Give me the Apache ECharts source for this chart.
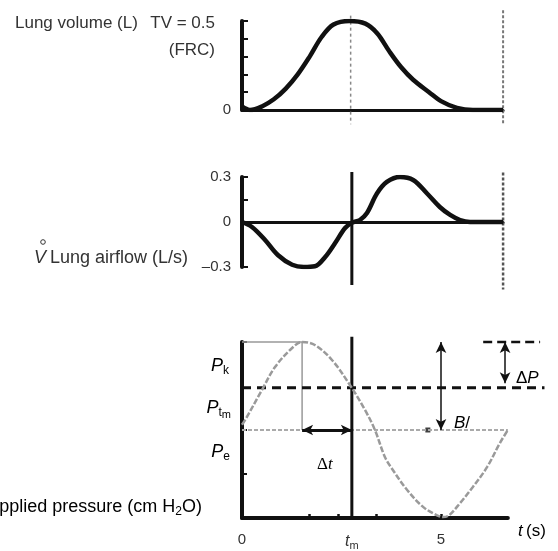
<!DOCTYPE html>
<html>
<head>
<meta charset="utf-8">
<title>Lung volume, airflow and applied pressure</title>
<style>
  html, body { margin: 0; padding: 0; background: #fff; }
  #chart { width: 558px; height: 551px; }
</style>
</head>
<body>
<div id="chart"></div>
<script src="https://cdn.jsdelivr.net/npm/echarts@6/dist/echarts.min.js"></script>
<script>
// lung volume (L) against time (s)
var volTime = [0, 0.2, 0.5, 0.8, 1.1, 1.4, 1.7, 2.0, 2.3, 2.7, 3.1, 3.4, 3.7, 4.0, 4.3, 4.7, 5.0, 5.4, 5.8, 6.2, 6.56];
var volume  = [0.02, 0.0, 0.02, 0.06, 0.12, 0.2, 0.3, 0.41, 0.48, 0.5, 0.485, 0.43, 0.33, 0.24, 0.17, 0.1, 0.05, 0.012, 0.0, 0.0, 0.0];

// lung airflow (L/s)
var flowTime = [0, 0.25, 0.58, 0.9, 1.26, 1.55, 1.83, 2.09, 2.34, 2.59, 2.76, 2.96, 3.14, 3.39, 3.64, 3.97, 4.3, 4.65, 4.97, 5.23, 5.48, 5.73, 6.56];
var airflow  = [0, -0.033, -0.12, -0.22, -0.285, -0.3, -0.295, -0.233, -0.14, -0.04, -0.005, 0.013, 0.06, 0.19, 0.267, 0.3, 0.28, 0.19, 0.1, 0.047, 0.013, 0.0, 0.0];

// applied pressure (relative, Pe = 0.5, Pk = 1)
var presTime = [0, 0.08, 0.5, 0.83, 1.26, 1.51, 1.83, 2.26, 2.71, 3.09, 3.34, 3.59, 3.79, 4.15, 4.55, 4.9, 5.05, 5.2, 5.48, 5.8, 6.16, 6.48, 6.68];
var pressure = [0.53, 0.557, 0.727, 0.858, 0.966, 1.0, 0.983, 0.898, 0.756, 0.614, 0.5, 0.347, 0.273, 0.159, 0.063, 0.015, 0.005, 0.015, 0.085, 0.176, 0.29, 0.426, 0.5];

var tm = 2.76, tPeak = 1.51, tEnd = 6.56, tAxisEnd = 6.68, tWide = 7.6;
var Pk = 1, Ptm = 0.74, Pe = 0.5;
var volTicks = 0.1;
var flowTicks = [-0.3, 0, 0.15, 0.3];
var flowLabels = [-0.3, 0, 0.3];
var presTicks = [0.25, 0.5, 0.74, 1];
var timeTicks = [1.68, 2.41, 3.37, 5];
var timeLabels = [0, tm, 5];

var INK = '#111';
var TXT = '#333';
var FONT = '"Liberation Sans", Arial, sans-serif';
var PX = 39.8; // pixels per second on every panel

function pairs(xs, ys) {
  return xs.map(function (x, i) { return [x, ys[i]]; });
}

function seg(grid, pts, style) {
  return {
    type: 'line', xAxisIndex: grid, yAxisIndex: grid,
    data: pts, symbol: 'none', clip: false, silent: true,
    animation: false, lineStyle: style
  };
}

function yAxisBase(grid, min, max) {
  return {
    type: 'value', gridIndex: grid, min: min, max: max,
    axisLine: { show: true, lineStyle: { color: INK, width: 4 } },
    axisTick: { show: true, inside: true, length: 6, lineStyle: { color: INK, width: 2 } },
    axisLabel: { show: false },
    splitLine: { show: false }
  };
}

var chart = echarts.init(document.getElementById('chart'), null, { renderer: 'canvas' });

var yTop = yAxisBase(0, 0, 0.5);
yTop.interval = volTicks;
yTop.axisLabel = { show: true, customValues: [0], margin: 11, fontSize: 15, color: TXT, fontFamily: FONT };

var yMid = yAxisBase(1, -0.3, 0.3);
yMid.axisTick.customValues = flowTicks;
yMid.axisLabel = {
  show: true, customValues: flowLabels, margin: 11, fontSize: 15, color: TXT, fontFamily: FONT,
  formatter: function (v) { return v < 0 ? '\u2013' + String(-v) : String(v); }
};

var yBot = yAxisBase(2, 0, 1);
yBot.axisTick.customValues = presTicks;
yBot.axisTick.length = 5;

// hidden wider frame over the bottom panel for the lines running past the axis
var yWide = { type: 'value', gridIndex: 3, min: 0, max: 1, show: false };

var option = {
  animation: false,
  grid: [
    { left: 242, top: 21, width: tEnd * PX, height: 89 },
    { left: 242, top: 177, width: tEnd * PX, height: 90 },
    { left: 242, top: 342, width: tAxisEnd * PX, height: 176 },
    { left: 242, top: 342, width: tWide * PX, height: 176 }
  ],
  xAxis: [
    {
      type: 'value', gridIndex: 0, min: 0, max: tEnd,
      axisLine: { show: true, lineStyle: { color: INK, width: 3 } },
      axisTick: { show: false }, axisLabel: { show: false }, splitLine: { show: false }
    },
    {
      type: 'value', gridIndex: 1, min: 0, max: tEnd,
      axisLine: { show: true, onZero: true, lineStyle: { color: INK, width: 3 } },
      axisTick: { show: false }, axisLabel: { show: false }, splitLine: { show: false }
    },
    {
      type: 'value', gridIndex: 2, min: 0, max: tAxisEnd,
      axisLine: { show: true, lineStyle: { color: INK, width: 4 } },
      axisTick: { show: true, inside: true, length: 4, customValues: timeTicks, lineStyle: { color: INK, width: 2.5 } },
      axisLabel: {
        show: true, customValues: timeLabels, margin: 14, fontSize: 15, color: TXT, fontFamily: FONT,
        formatter: function (v) {
          return Math.abs(v - tm) < 0.01 ? '{t|t}{m|m}' : String(v);
        },
        rich: {
          t: { fontSize: 16, fontStyle: 'italic', color: TXT, fontFamily: FONT },
          m: { fontSize: 11, color: TXT, fontFamily: FONT, verticalAlign: 'bottom', padding: [8, 0, 0, 0] }
        }
      },
      splitLine: { show: false }
    },
    { type: 'value', gridIndex: 3, min: 0, max: tWide, show: false }
  ],
  yAxis: [yTop, yMid, yBot, yWide],
  series: [
    // top panel
    seg(0, [[tm - 0.03, 0.53], [tm - 0.03, -0.08]], { color: '#888', width: 1.5, type: [3, 3] }),
    seg(0, [[tEnd, 0.56], [tEnd, -0.08]], { color: '#777', width: 2, type: [3, 2] }),
    {
      type: 'line', xAxisIndex: 0, yAxisIndex: 0, data: pairs(volTime, volume),
      smooth: 0.35, symbol: 'none', silent: true, lineStyle: { color: INK, width: 4.5 }
    },
    // middle panel
    seg(1, [[tm, 0.333], [tm, -0.42]], { color: INK, width: 3 }),
    seg(1, [[tEnd, 0.33], [tEnd, -0.45]], { color: '#555', width: 2.5, type: [3, 2] }),
    {
      type: 'line', xAxisIndex: 1, yAxisIndex: 1, data: pairs(flowTime, airflow),
      smooth: 0.35, symbol: 'none', silent: true, lineStyle: { color: INK, width: 4.5 }
    },
    // bottom panel
    seg(2, [[0, Pe], [tAxisEnd, Pe]], { color: '#aaa', width: 2, type: [4, 2] }),
    seg(2, [[0, Pk], [tPeak, Pk], [tPeak, Pe]], { color: '#999', width: 1.5 }),
    seg(3, [[0, Ptm], [tWide, Ptm]], { color: INK, width: 3, type: [9, 6] }),
    seg(3, [[6.06, Pk], [7.49, Pk]], { color: INK, width: 2.5, type: [9, 5] }),
    seg(2, [[tm, 1.03], [tm, 0]], { color: INK, width: 3 }),
    {
      type: 'line', xAxisIndex: 2, yAxisIndex: 2, data: pairs(presTime, pressure),
      smooth: 0.35, symbol: 'none', silent: true, clip: false,
      lineStyle: { color: '#9a9a9a', width: 2.5, type: [6, 2] },
      markLine: {
        silent: true, animation: false, symbol: ['arrow', 'arrow'], symbolSize: [8, 11],
        label: { show: false },
        data: [
          [{ coord: [tPeak, Pe], lineStyle: { color: INK, width: 3, type: 'solid' } },
           { coord: [tm, Pe], lineStyle: { color: INK, width: 3, type: 'solid' } }],
          [{ coord: [5.0, Pk], lineStyle: { color: INK, width: 1.5, type: 'solid' } },
           { coord: [5.0, Pe], lineStyle: { color: INK, width: 1.5, type: 'solid' } }],
          [{ coord: [6.61, Pk], lineStyle: { color: INK, width: 1.5, type: 'solid' } },
           { coord: [6.61, 0.765], lineStyle: { color: INK, width: 1.5, type: 'solid' } }]
        ]
      }
    },
    {
      type: 'scatter', xAxisIndex: 2, yAxisIndex: 2, data: [[4.67, Pe]],
      symbol: 'rect', symbolSize: 5, silent: true, itemStyle: { color: INK }
    }
  ],
  graphic: [
    { type: 'text', x: 15, y: 23, style: { text: 'Lung volume (L)', fill: TXT, fontSize: 17, fontFamily: FONT, verticalAlign: 'middle' } },
    { type: 'text', x: 215, y: 23, style: { text: 'TV = 0.5', fill: TXT, fontSize: 17, fontFamily: FONT, align: 'right', verticalAlign: 'middle' } },
    { type: 'text', x: 215, y: 50, style: { text: '(FRC)', fill: TXT, fontSize: 17, fontFamily: FONT, align: 'right', verticalAlign: 'middle' } },
    { type: 'text', x: 34, y: 258, style: { text: 'V', fill: TXT, fontSize: 18, fontStyle: 'italic', fontFamily: FONT, verticalAlign: 'middle' } },
    { type: 'circle', shape: { cx: 43, cy: 242, r: 2.3 }, style: { fill: 'none', stroke: TXT, lineWidth: 1 } },
    { type: 'text', x: 188, y: 258, style: { text: 'Lung airflow (L/s)', fill: TXT, fontSize: 18, fontFamily: FONT, align: 'right', verticalAlign: 'middle' } },
    {
      type: 'text', x: 202, y: 507,
      style: {
        text: '{a|Applied pressure (cm H}{s|2}{a|O)}', align: 'right', verticalAlign: 'middle',
        rich: {
          a: { fontSize: 18, color: TXT, fontFamily: FONT },
          s: { fontSize: 12, color: TXT, fontFamily: FONT, padding: [10, 0, 0, 0] }
        }
      }
    },
    {
      type: 'text', x: 229, y: 366,
      style: {
        text: '{p|P}{s|k}', align: 'right', verticalAlign: 'middle',
        rich: {
          p: { fontSize: 18, fontStyle: 'italic', color: TXT, fontFamily: FONT },
          s: { fontSize: 12, color: TXT, fontFamily: FONT, padding: [9, 0, 0, 0] }
        }
      }
    },
    {
      type: 'text', x: 231, y: 408,
      style: {
        text: '{p|P}{s|t}{m|m}', align: 'right', verticalAlign: 'middle',
        rich: {
          p: { fontSize: 18, fontStyle: 'italic', color: TXT, fontFamily: FONT },
          s: { fontSize: 12, color: TXT, fontFamily: FONT, padding: [9, 0, 0, 0] },
          m: { fontSize: 11, color: TXT, fontFamily: FONT, padding: [14, 0, 0, 0] }
        }
      }
    },
    {
      type: 'text', x: 230, y: 452,
      style: {
        text: '{p|P}{s|e}', align: 'right', verticalAlign: 'middle',
        rich: {
          p: { fontSize: 18, fontStyle: 'italic', color: TXT, fontFamily: FONT },
          s: { fontSize: 12, color: TXT, fontFamily: FONT, padding: [9, 0, 0, 0] }
        }
      }
    },
    {
      type: 'text', x: 317, y: 465,
      style: {
        text: '{d|\u0394}{t|t}', verticalAlign: 'middle',
        rich: {
          d: { fontSize: 17, color: TXT, fontFamily: '"Liberation Serif", serif' },
          t: { fontSize: 17, fontStyle: 'italic', color: TXT, fontFamily: '"Liberation Serif", serif' }
        }
      }
    },
    {
      type: 'text', x: 516, y: 378,
      style: {
        text: '{d|\u0394}{p|P}', verticalAlign: 'middle',
        rich: {
          d: { fontSize: 17, color: TXT, fontFamily: FONT },
          p: { fontSize: 17, fontStyle: 'italic', color: TXT, fontFamily: FONT }
        }
      }
    },
    {
      type: 'text', x: 454, y: 423,
      style: {
        text: '{b|B}{s|/}', verticalAlign: 'middle',
        rich: {
          b: { fontSize: 17, fontStyle: 'italic', color: TXT, fontFamily: FONT },
          s: { fontSize: 17, color: TXT, fontFamily: FONT }
        }
      }
    },
    {
      type: 'text', x: 518, y: 531,
      style: {
        text: '{t|t} {s|(s)}', verticalAlign: 'middle',
        rich: {
          t: { fontSize: 17, fontStyle: 'italic', color: TXT, fontFamily: FONT },
          s: { fontSize: 17, color: TXT, fontFamily: FONT }
        }
      }
    }
  ]
};

chart.setOption(option);
</script>
</body>
</html>
